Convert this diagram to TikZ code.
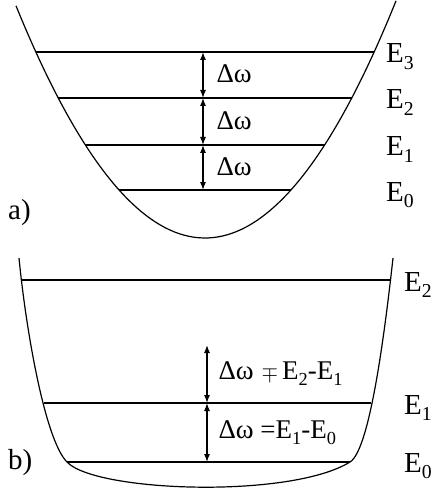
\documentclass[tikz,border=0pt]{standalone}
\usepackage{fontspec}
\setmainfont{Liberation Serif}
\usetikzlibrary{arrows.meta}
\newcommand\lo[1]{\raisebox{-0.22em}{\scalebox{0.68}{#1}}}

\begin{document}
\begin{tikzpicture}[x=1pt, y=-1pt,
  well/.style={line width=1.2pt},
  lvl/.style={line width=1.4pt},
  gap/.style={{Latex[length=8pt,width=6pt]}-{Latex[length=8pt,width=6pt]}, line width=1.1pt},
  elab/.style={anchor=base west, inner sep=0pt, font=\fontsize{29}{31}\selectfont},
  dlab/.style={right, xshift=11pt, inner sep=0pt, font=\fontsize{27}{29}\selectfont},
  tag/.style={anchor=base west, inner sep=0pt, font=\fontsize{29}{31}\selectfont}
]
\useasboundingbox (0,0) rectangle (438,489);

% a) parabolic well
\draw[well] plot[domain=16:396, samples=80] (\x, {238-0.65*((\x-205)/10)^2});
\foreach \n/\y/\h in {0/190/86, 1/145/120, 2/98/147, 3/52/169} {
  \draw[lvl] (205-\h,\y) -- (205+\h,\y);
  \coordinate (a\n) at (203,\y);
  \node[elab] (ea\n) at (386,\y+11) {E\lo{\n}};
}
\foreach \i/\j in {0/1, 1/2, 2/3}
  \draw[gap] (a\i) -- (a\j) node[dlab, midway, xshift=2pt, yshift=1pt] (da\i) {Δω};
\node[tag] (ta) at (8,219) {a)};

% b) flat-bottomed well
\draw[well] (19,258) .. controls (26,330) and (45,440) .. (67,462)
  .. controls (95,492) and (290,499) .. (350,462)
  .. controls (370,450) and (385,330) .. (393,258);
\draw[lvl] (22,280) -- (390,280);
\draw[lvl] (44,403) -- (371,403);
\draw[lvl] (67,462) -- (350,462);
\coordinate (btop) at (207,345);
\coordinate (b1) at (207,403);
\coordinate (b0) at (207,462);
\node[elab] (eb2) at (404,291) {E\lo{2}};
\node[elab] (eb1) at (404,414) {E\lo{1}};
\node[elab] (eb0) at (404,472) {E\lo{0}};
\draw[gap] (btop) -- (b1) node[dlab, midway] (db1)
  {Δω\hspace{8pt}\scalebox{0.85}{$\mp$}\hspace{4pt}E\lo{2}-E\lo{1}};
\draw[gap] (b1) -- (b0) node[dlab, midway] (db0) {Δω =E\lo{1}-E\lo{0}};
\node[tag] (tb) at (8,469) {b)};
\end{tikzpicture}
\end{document}
